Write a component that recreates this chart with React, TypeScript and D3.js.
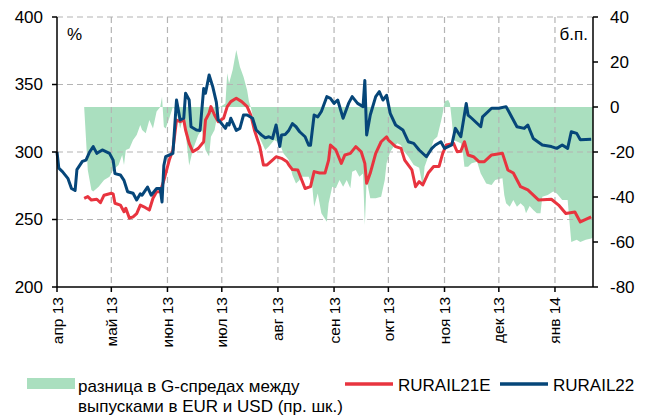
import React from "react";
import * as d3 from "d3";

// RURAIL22, % (left axis)
const rurail22: [string, number][] = [
  ["2013-04-01", 300], ["2013-04-02", 288], ["2013-04-04", 285.5], ["2013-04-07", 280.5],
  ["2013-04-09", 273], ["2013-04-11", 271.5], ["2013-04-12", 287], ["2013-04-15", 293],
  ["2013-04-17", 294], ["2013-04-19", 300], ["2013-04-21", 304], ["2013-04-23", 299],
  ["2013-04-26", 301.5], ["2013-04-30", 299], ["2013-05-02", 294], ["2013-05-03", 284],
  ["2013-05-06", 283], ["2013-05-08", 279], ["2013-05-10", 270.6], ["2013-05-13", 269.4],
  ["2013-05-15", 264.5], ["2013-05-17", 269], ["2013-05-18", 268], ["2013-05-21", 274],
  ["2013-05-23", 268], ["2013-05-26", 273], ["2013-05-28", 273], ["2013-05-29", 263],
  ["2013-05-30", 290], ["2013-05-31", 296.5], ["2013-06-04", 299], ["2013-06-06", 338.5],
  ["2013-06-08", 323.7], ["2013-06-10", 325], ["2013-06-11", 343.5], ["2013-06-13", 338.5],
  ["2013-06-14", 318.7], ["2013-06-17", 316.3], ["2013-06-19", 316], ["2013-06-21", 347],
  ["2013-06-22", 343.5], ["2013-06-24", 357], ["2013-06-26", 348.4], ["2013-06-28", 337],
  ["2013-06-29", 323.7], ["2013-06-30", 322.5], ["2013-07-03", 317.5], ["2013-07-04", 321],
  ["2013-07-05", 320], ["2013-07-06", 325], ["2013-07-09", 316], ["2013-07-11", 317.5],
  ["2013-07-13", 327.4], ["2013-07-15", 327.4], ["2013-07-18", 325], ["2013-07-20", 316.3],
  ["2013-07-23", 312.5], ["2013-07-25", 310.5], ["2013-07-27", 311.3], ["2013-07-29", 310],
  ["2013-07-31", 320], ["2013-08-02", 304], ["2013-08-03", 312.6], ["2013-08-05", 313],
  ["2013-08-07", 316], ["2013-08-09", 321], ["2013-08-11", 318.7], ["2013-08-13", 315],
  ["2013-08-16", 311.3], ["2013-08-18", 305], ["2013-08-19", 305], ["2013-08-21", 327.4],
  ["2013-08-23", 326], ["2013-08-25", 330], ["2013-08-28", 341], ["2013-08-30", 339.8],
  ["2013-09-01", 336], ["2013-09-03", 338.5], ["2013-09-06", 325], ["2013-09-09", 336],
  ["2013-09-11", 341], ["2013-09-14", 336], ["2013-09-17", 333.6], ["2013-09-18", 353],
  ["2013-09-19", 312.6], ["2013-09-21", 327.4], ["2013-09-24", 341], ["2013-09-26", 344.7],
  ["2013-09-28", 338.5], ["2013-09-30", 342], ["2013-10-02", 328.7], ["2013-10-05", 320],
  ["2013-10-09", 316.3], ["2013-10-12", 307.6], ["2013-10-15", 306.4], ["2013-10-18", 301.5],
  ["2013-10-22", 296.5], ["2013-10-25", 302.7], ["2013-10-27", 305.2], ["2013-10-30", 307.6],
  ["2013-11-01", 302.7], ["2013-11-05", 305.2], ["2013-11-07", 317.5], ["2013-11-10", 311.3],
  ["2013-11-13", 336], ["2013-11-14", 327.4], ["2013-11-16", 325], ["2013-11-21", 318.7],
  ["2013-11-22", 326], ["2013-11-27", 332.4], ["2013-12-01", 332.4], ["2013-12-05", 333.6],
  ["2013-12-07", 328.7], ["2013-12-11", 318.7], ["2013-12-15", 317.5], ["2013-12-17", 320],
  ["2013-12-20", 310], ["2013-12-25", 305.2], ["2013-12-30", 304], ["2014-01-02", 302.7],
  ["2014-01-05", 305.2], ["2014-01-08", 302.7], ["2014-01-10", 315], ["2014-01-13", 313.8],
  ["2014-01-15", 309], ["2014-01-21", 309.5],
];

// RURAIL21E, % (left axis)
const rurail21e: [string, number][] = [
  ["2013-04-16", 265.7], ["2013-04-18", 267], ["2013-04-20", 264.4], ["2013-04-23", 265],
  ["2013-04-25", 262.5], ["2013-04-27", 268], ["2013-05-01", 269.4], ["2013-05-02", 269],
  ["2013-05-03", 262], ["2013-05-06", 260.7], ["2013-05-08", 255.8], ["2013-05-09", 258.3],
  ["2013-05-11", 251], ["2013-05-13", 252], ["2013-05-15", 254.4], ["2013-05-17", 260.7],
  ["2013-05-19", 259.4], ["2013-05-22", 257], ["2013-05-24", 265.7], ["2013-05-26", 270.6],
  ["2013-05-28", 270.6], ["2013-05-30", 279], ["2013-06-02", 294], ["2013-06-04", 301.5],
  ["2013-06-06", 323.7], ["2013-06-08", 322.5], ["2013-06-10", 323.7], ["2013-06-11", 316.3],
  ["2013-06-13", 306.4], ["2013-06-15", 300.2], ["2013-06-18", 302.7], ["2013-06-21", 307.6],
  ["2013-06-22", 323.7], ["2013-06-24", 328.7], ["2013-06-25", 333.6], ["2013-06-27", 327.4],
  ["2013-06-29", 322.5], ["2013-07-02", 325], ["2013-07-04", 333.6], ["2013-07-06", 337.3],
  ["2013-07-09", 339.8], ["2013-07-12", 337.3], ["2013-07-15", 333.6], ["2013-07-17", 327.4],
  ["2013-07-19", 316.3], ["2013-07-22", 304], ["2013-07-24", 290.4], ["2013-07-26", 290.4],
  ["2013-07-29", 294], ["2013-07-31", 296.5], ["2013-08-03", 295.3], ["2013-08-06", 292.8],
  ["2013-08-07", 290.5], ["2013-08-09", 287], ["2013-08-12", 286.7], ["2013-08-16", 273],
  ["2013-08-19", 274.3], ["2013-08-21", 285.5], ["2013-08-24", 284.4], ["2013-08-27", 284.4],
  ["2013-08-29", 294], ["2013-08-30", 305.2], ["2013-09-02", 301.5], ["2013-09-05", 291.6],
  ["2013-09-07", 297.8], ["2013-09-10", 299], ["2013-09-13", 304], ["2013-09-16", 300.2],
  ["2013-09-18", 291.6], ["2013-09-19", 276.8], ["2013-09-21", 284.4], ["2013-09-24", 299],
  ["2013-09-27", 307.6], ["2013-09-30", 311.3], ["2013-10-01", 308.9], ["2013-10-05", 304],
  ["2013-10-08", 302.7], ["2013-10-10", 294], ["2013-10-14", 286.7], ["2013-10-16", 274.3],
  ["2013-10-18", 278], ["2013-10-20", 275.6], ["2013-10-23", 284.4], ["2013-10-26", 289.3],
  ["2013-10-29", 289.3], ["2013-10-31", 299], ["2013-11-02", 305.2], ["2013-11-06", 306.4],
  ["2013-11-08", 300.2], ["2013-11-10", 300.5], ["2013-11-12", 307.6], ["2013-11-14", 297.8],
  ["2013-11-17", 296.5], ["2013-11-20", 292.8], ["2013-11-23", 292.8], ["2013-11-27", 297.8],
  ["2013-12-03", 299], ["2013-12-06", 286.7], ["2013-12-09", 284.4], ["2013-12-13", 274.3],
  ["2013-12-17", 271.9], ["2013-12-23", 264.4], ["2013-12-30", 265], ["2014-01-03", 260.7],
  ["2014-01-07", 254.4], ["2014-01-12", 255.6], ["2014-01-15", 248.2], ["2014-01-21", 252],
];

// spread difference EUR vs USD, bp (right axis)
const spreadDiff: [string, number][] = [
  ["2013-04-16", 0], ["2013-04-18", -28], ["2013-04-20", -36.9], ["2013-04-21", -37.6],
  ["2013-04-24", -35.4], ["2013-04-27", -32.4], ["2013-04-30", -31], ["2013-05-02", -28],
  ["2013-05-05", -25.8], ["2013-05-07", -21.3], ["2013-05-08", -25.8], ["2013-05-09", -19.1],
  ["2013-05-11", -18.4], ["2013-05-13", -14.7], ["2013-05-15", -12.4], ["2013-05-17", -8],
  ["2013-05-18", -10.2], ["2013-05-20", -11.7], ["2013-05-22", -5.8], ["2013-05-24", -9.5],
  ["2013-05-26", -2], ["2013-05-28", 0], ["2013-05-29", 4.6], ["2013-05-30", -8.8],
  ["2013-05-31", -9.5], ["2013-06-02", -5], ["2013-06-04", 0], ["2013-06-06", -2],
  ["2013-06-08", -9.5], ["2013-06-10", -4], ["2013-06-13", -26], ["2013-06-15", -19.1],
  ["2013-06-18", -12.4], ["2013-06-20", -10.2], ["2013-06-22", -19.1], ["2013-06-24", -22],
  ["2013-06-25", -13.2], ["2013-06-27", -10.2], ["2013-06-29", -2], ["2013-06-30", 0],
  ["2013-07-03", 1.6], ["2013-07-04", 15], ["2013-07-05", 10.5], ["2013-07-07", 16.4],
  ["2013-07-09", 25.3], ["2013-07-11", 17.9], ["2013-07-13", 13.5], ["2013-07-15", 7.5],
  ["2013-07-16", 2.4], ["2013-07-17", 0], ["2013-07-19", -7.2], ["2013-07-22", -13.9],
  ["2013-07-25", -19.1], ["2013-07-27", -17.6], ["2013-07-30", -14.7], ["2013-08-02", -16.1],
  ["2013-08-04", -20.6], ["2013-08-07", -23.6], ["2013-08-09", -30.2], ["2013-08-11", -34],
  ["2013-08-13", -32.4], ["2013-08-14", -31], ["2013-08-18", -31], ["2013-08-20", -35.4],
  ["2013-08-21", -44.3], ["2013-08-23", -38.4], ["2013-08-25", -47.2], ["2013-08-28", -51],
  ["2013-08-29", -42.8], ["2013-08-31", -35.4], ["2013-09-02", -36.1], ["2013-09-04", -32.4],
  ["2013-09-06", -35.4], ["2013-09-08", -32.4], ["2013-09-10", -36.1], ["2013-09-11", -28.8],
  ["2013-09-13", -28], ["2013-09-15", -31], ["2013-09-17", -29.5], ["2013-09-18", -52.4],
  ["2013-09-19", -32.4], ["2013-09-21", -40.6], ["2013-09-24", -40.6], ["2013-09-27", -39.9],
  ["2013-09-29", -32.4], ["2013-09-30", -25], ["2013-10-02", -19.9], ["2013-10-04", -17.6],
  ["2013-10-06", -16.1], ["2013-10-08", -17], ["2013-10-09", -19.1], ["2013-10-12", -22],
  ["2013-10-15", -25.8], ["2013-10-18", -27], ["2013-10-20", -35.4], ["2013-10-21", -26.5],
  ["2013-10-24", -19.9], ["2013-10-26", -14.7], ["2013-10-28", -13.2], ["2013-10-30", -6.5],
  ["2013-10-31", -2.8], ["2013-11-01", 2.4], ["2013-11-03", 3.1], ["2013-11-04", 1.6],
  ["2013-11-05", -5.8], ["2013-11-06", -14.7], ["2013-11-10", -16.1], ["2013-11-11", -19.1],
  ["2013-11-12", -26.5], ["2013-11-14", -26.5], ["2013-11-16", -25], ["2013-11-19", -24.3],
  ["2013-11-21", -29.5], ["2013-11-23", -32.4], ["2013-11-24", -34], ["2013-11-27", -34.7],
  ["2013-11-29", -32.4], ["2013-12-01", -32], ["2013-12-03", -31.7], ["2013-12-04", -39.1],
  ["2013-12-05", -42.8], ["2013-12-07", -44.3], ["2013-12-09", -41.3], ["2013-12-11", -44.3],
  ["2013-12-13", -42.8], ["2013-12-15", -44.3], ["2013-12-16", -47.2], ["2013-12-18", -44],
  ["2013-12-20", -45.8], ["2013-12-22", -47.2], ["2013-12-24", -47.2], ["2013-12-25", -39.9],
  ["2013-12-28", -39.1], ["2013-12-31", -37.6], ["2014-01-02", -38.4], ["2014-01-05", -41.3],
  ["2014-01-08", -41.3], ["2014-01-10", -60], ["2014-01-13", -59], ["2014-01-15", -60],
  ["2014-01-18", -59], ["2014-01-21", -58.4], ["2014-01-22", -58],
];

const leftTicks = [200, 250, 300, 350, 400];
const rightTicks = [-80, -60, -40, -20, 0, 20, 40];
const monthLabels = ["апр 13", "май 13", "июн 13", "июл 13", "авг 13", "сен 13", "окт 13", "ноя 13", "дек 13", "янв 14"];
const monthStarts = ["2013-04-01", "2013-05-01", "2013-06-01", "2013-07-01", "2013-08-01", "2013-09-01", "2013-10-01", "2013-11-01", "2013-12-01", "2014-01-01"];

const W = 647;
const H = 416;
const FONT = "'Liberation Sans', Arial, sans-serif";
const RED = "#e8343f";
const BLUE = "#064679";
const GREEN = "#aadfbf";
const GRID = "#b4b4b4";

const parse = d3.timeParse("%Y-%m-%d");

export default function App() {
  const x = d3
    .scaleTime()
    .domain([parse("2013-04-01")!, parse("2014-01-22")!])
    .range([57, 593]);
  const yL = d3.scaleLinear().domain([200, 400]).range([287, 17]);
  const yR = d3.scaleLinear().domain([-80, 40]).range([287, 17]);

  const lineL = d3
    .line<[string, number]>()
    .x((d) => x(parse(d[0])!))
    .y((d) => yL(d[1]));
  const area = d3
    .area<[string, number]>()
    .x((d) => x(parse(d[0])!))
    .y0(yR(0))
    .y1((d) => yR(d[1]));

  const [x0, x1] = x.range();

  return (
    <svg width={W} height={H} style={{ position: "absolute", left: 0, top: 0, background: "#fff" }} fontFamily={FONT}>
      <path d={area(spreadDiff) || ""} fill={GREEN} />

      {/* grid */}
      {leftTicks.slice(1).map((t) => (
        <line key={"h" + t} x1={x0} x2={x1} y1={yL(t)} y2={yL(t)} stroke={GRID} strokeWidth={1.2} strokeDasharray="6,4" />
      ))}
      {monthStarts.slice(1).map((m) => (
        <line key={"v" + m} x1={x(parse(m)!)} x2={x(parse(m)!)} y1={17} y2={287} stroke={GRID} strokeWidth={1.2} strokeDasharray="6,4" />
      ))}

      <path d={lineL(rurail21e) || ""} fill="none" stroke={RED} strokeWidth={3} strokeLinejoin="round" />
      <path d={lineL(rurail22) || ""} fill="none" stroke={BLUE} strokeWidth={3} strokeLinejoin="round" />

      {/* axes */}
      <line x1={x0} x2={x0} y1={17} y2={287} stroke="#000" strokeWidth={1.5} />
      <line x1={x1} x2={x1} y1={17} y2={287} stroke="#000" strokeWidth={1.5} />
      <line x1={x0} x2={x1} y1={287} y2={287} stroke="#000" strokeWidth={1.5} />

      {leftTicks.map((t) => (
        <g key={"l" + t}>
          <line x1={x0 - 5} x2={x0} y1={yL(t)} y2={yL(t)} stroke="#000" strokeWidth={1.5} />
          <text x={43} y={yL(t)} dy="0.35em" textAnchor="end" fontSize={17}>
            {t}
          </text>
        </g>
      ))}
      {rightTicks.map((t) => (
        <g key={"r" + t}>
          <line x1={x1} x2={x1 + 5} y1={yR(t)} y2={yR(t)} stroke="#000" strokeWidth={1.5} />
          <text x={610} y={yR(t)} dy="0.35em" textAnchor="start" fontSize={17}>
            {t}
          </text>
        </g>
      ))}
      {monthStarts.map((m, i) => {
        const mx = x(parse(m)!);
        return (
          <g key={"m" + m}>
            <line x1={mx} x2={mx} y1={287} y2={292} stroke="#000" strokeWidth={1.5} />
            <text transform={`translate(${mx + 5.5},297) rotate(-90)`} textAnchor="end" fontSize={15.5}>
              {monthLabels[i]}
            </text>
          </g>
        );
      })}

      <text x={67} y={40} fontSize={17}>%</text>
      <text x={588} y={40} fontSize={17} textAnchor="end">б.п.</text>

      {/* legend */}
      <rect x={27} y={378} width={48} height={11} fill={GREEN} />
      <text x={78} y={392} fontSize={17}>разница в G-спредах между</text>
      <text x={78} y={412} fontSize={17}>выпусками в EUR и USD (пр. шк.)</text>
      <line x1={345} x2={393} y1={384} y2={384} stroke={RED} strokeWidth={3.5} />
      <text x={398} y={391} fontSize={17}>RURAIL21E</text>
      <line x1={500} x2={548} y1={384} y2={384} stroke={BLUE} strokeWidth={3.5} />
      <text x={553} y={391} fontSize={17}>RURAIL22</text>
    </svg>
  );
}
